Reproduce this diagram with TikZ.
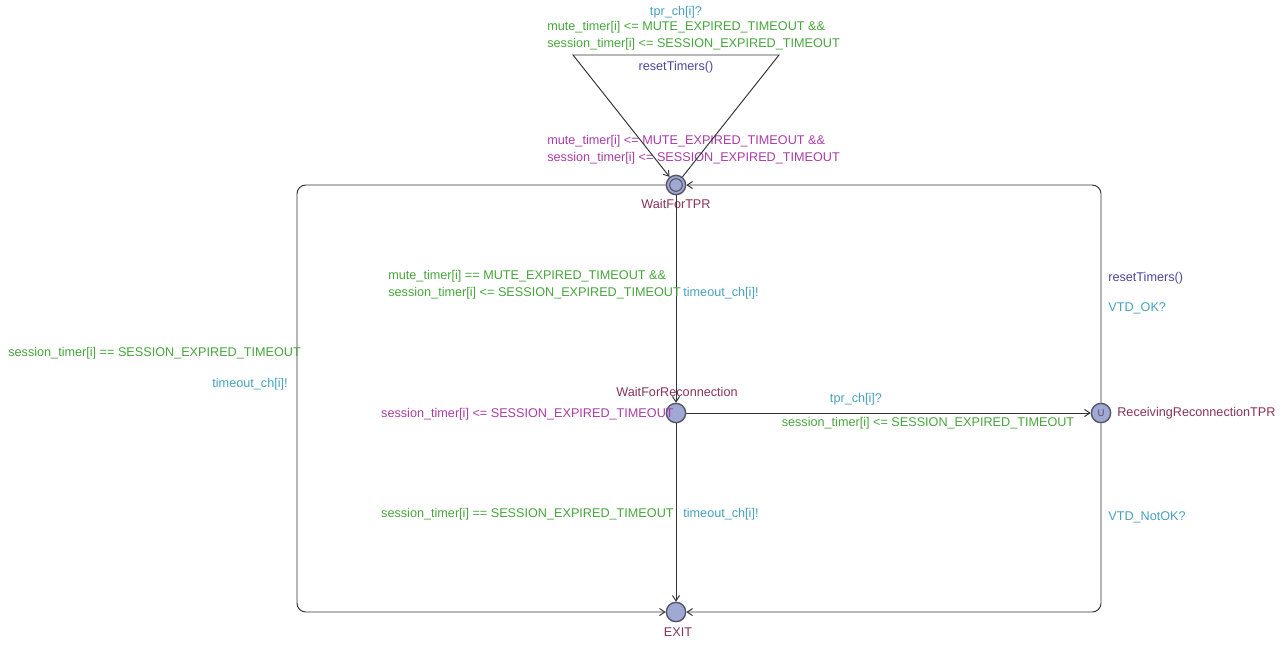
\documentclass[tikz,border=0pt]{standalone}
\usepackage{fontspec}
\setmainfont{Liberation Sans}
\usepackage{tikz}
\usetikzlibrary{arrows.meta,positioning}
\definecolor{guardc}{RGB}{70,165,60}
\definecolor{syncc}{RGB}{70,160,190}
\definecolor{updc}{RGB}{75,70,160}
\definecolor{invc}{RGB}{170,60,165}
\definecolor{namec}{RGB}{135,50,90}
\definecolor{locfill}{RGB}{160,168,212}
\definecolor{locdraw}{RGB}{85,85,105}

\begin{document}
\begin{tikzpicture}[
    x=0.02cm, y=-0.02cm,
    loc/.style={circle, draw=locdraw, fill=locfill, line width=0.8pt, minimum size=11pt, inner sep=0pt},
    edge/.style={draw=black!80, line width=0.55pt, -{Straight Barb[length=3pt,width=4pt]}},
    lbl/.style={font=\fontsize{7.2}{9.7}\selectfont, inner sep=0pt, align=left},
    guard/.style={lbl, text=guardc},
    sync/.style={lbl, text=syncc},
    upd/.style={lbl, text=updc},
    inv/.style={lbl, text=invc},
    locname/.style={lbl, text=namec},
  ]
  \useasboundingbox (0,0) rectangle (1282,664);

  % Locations
  \node[loc] (waittpr) at (676,185) {};
  \draw[locdraw, line width=0.6pt] (waittpr.center) circle (3.6pt);
  \node[loc] (waitrec) at (676,413) {};
  \node[loc, font=\fontsize{5.5}{5.5}\selectfont, text=locdraw] (recvtpr) at (1101,413) {U};
  \node[loc] (exit) at (676,612) {};

  % Location names and invariants
  \node[locname] (nwaittpr) at (676,204) {WaitForTPR};
  \node[locname] (nwaitrec) at (677,392) {WaitForReconnection};
  \node[locname, anchor=west] (nrecvtpr) at (1117,413) {ReceivingReconnectionTPR};
  \node[locname] (nexit) at (678,632) {EXIT};
  \node[inv, anchor=west] (invtpr) at (547,149.5) {mute\_timer[i] <= MUTE\_EXPIRED\_TIMEOUT \&\&\\session\_timer[i] <= SESSION\_EXPIRED\_TIMEOUT};
  \node[inv, anchor=east] (invrec) at (674,414) {session\_timer[i] <= SESSION\_EXPIRED\_TIMEOUT};

  % Bends
  \coordinate (loopr) at (779,55);
  \coordinate (loopl) at (573,55);
  \coordinate (tl) at (297,185);
  \coordinate (bl) at (297,612);
  \coordinate (tr) at (1101,185);
  \coordinate (br) at (1101,612);

  % Edges
  \draw[edge] (waittpr) -- (loopr) -- (loopl) -- (waittpr);
  \draw[edge] (waittpr) -- (waitrec);
  \draw[edge] (waitrec) -- (recvtpr);
  \draw[edge] (waitrec) -- (exit);
  \draw[edge, rounded corners=5pt] (waittpr) -- (tl) -- (bl) -- (exit);
  \draw[edge, rounded corners=5pt] (recvtpr) -- (tr) -- (waittpr);
  \draw[edge, rounded corners=5pt] (recvtpr) -- (br) -- (exit);

  % Self loop labels
  \node[sync] (sloop) at (676,12) {tpr\_ch[i]?};
  \node[guard, anchor=west] (gloop) at (547,35.5) {mute\_timer[i] <= MUTE\_EXPIRED\_TIMEOUT \&\&\\session\_timer[i] <= SESSION\_EXPIRED\_TIMEOUT};
  \node[upd] (uloop) at (676,67) {resetTimers()};

  % WaitForTPR -> WaitForReconnection
  \node[guard, anchor=west] (gmute) at (388,284.5) {mute\_timer[i] == MUTE\_EXPIRED\_TIMEOUT \&\&\\session\_timer[i] <= SESSION\_EXPIRED\_TIMEOUT};
  \node[sync, anchor=west] (smute) at (683,293) {timeout\_ch[i]!};

  % WaitForTPR -> EXIT
  \node[guard, anchor=west] (gsess) at (8,353) {session\_timer[i] == SESSION\_EXPIRED\_TIMEOUT};
  \node[sync, anchor=east] (ssess) at (288,384) {timeout\_ch[i]!};

  % WaitForReconnection -> ReceivingReconnectionTPR
  \node[sync] (srec) at (856,399) {tpr\_ch[i]?};
  \node[guard] (grec) at (928,423) {session\_timer[i] <= SESSION\_EXPIRED\_TIMEOUT};

  % WaitForReconnection -> EXIT
  \node[guard, anchor=east] (gexit) at (674,514) {session\_timer[i] == SESSION\_EXPIRED\_TIMEOUT};
  \node[sync, anchor=west] (sexit) at (683,514) {timeout\_ch[i]!};

  % ReceivingReconnectionTPR -> WaitForTPR / EXIT
  \node[upd, anchor=west] (uok) at (1108,278) {resetTimers()};
  \node[sync, anchor=west] (sok) at (1108,308) {VTD\_OK?};
  \node[sync, anchor=west] (snotok) at (1108,517) {VTD\_NotOK?};
\end{tikzpicture}
\end{document}
